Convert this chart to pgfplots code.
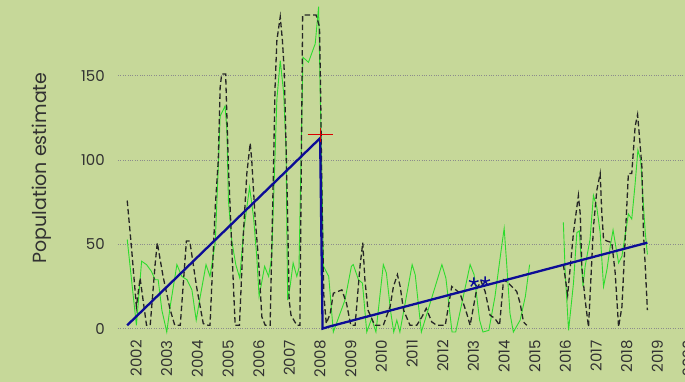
\documentclass[border=0pt]{standalone}
\usepackage{fontspec}
\setmainfont{Poppins}
\usepackage{pgfplots}
\pgfplotsset{compat=1.18}

\definecolor{bgkhaki}{RGB}{198,216,153}
\definecolor{seriesgreen}{RGB}{45,220,45}
\definecolor{trendblue}{RGB}{12,12,150}
\definecolor{ticktext}{RGB}{50,50,50}

\begin{document}
\begin{tikzpicture}
\path[use as bounding box, fill=bgkhaki] (0bp,0bp) rectangle (685bp,382bp);
\clip (0bp,0bp) rectangle (685bp,382bp);
\begin{axis}[
  at={(118bp,46.6bp)}, anchor=south west,
  scale only axis, width=588.6bp, height=343.9bp,
  xmin=2001.41, xmax=2020.6, ymin=-4, ymax=200,
  axis line style={draw=none},
  major tick length=0pt,
  tick style={draw=none},
  ymajorgrids,
  grid style={dotted, line width=0.7bp, color=black!45},
  xtick={2002,...,2020},
  xticklabels={2002,2003,2004,2005,2006,2007,2008,2009,2010,2011,2012,2013,2014,2015,2016,2017,2018,2019,2020},
  ytick={0,50,100,150},
  /pgf/number format/assume math mode=true,
  ticklabel style={font=\fontsize{15bp}{18bp}\selectfont, text=ticktext},
  xticklabel style={rotate=90, anchor=east, inner sep=0pt},
  xticklabel shift=4.6bp,
  yticklabel style={anchor=east, inner sep=0pt},
  yticklabel shift=13bp,
  ylabel={Population estimate},
  ylabel style={at={(axis description cs:-0.129,0.487)}, anchor=center,
    font=\fontsize{19bp}{22bp}\selectfont, text=ticktext},
  clip=true,
]

% monthly counts, first survey period
\addplot[seriesgreen, line width=0.9bp] coordinates {
(2001.71,53) (2002.01,2) (2002.18,40) (2002.34,38) (2002.50,34) (2002.62,29)
(2002.72,29) (2002.84,11) (2003.00,-2) (2003.11,13) (2003.33,38) (2003.49,31)
(2003.66,29) (2003.82,23) (2003.96,5) (2004.09,19) (2004.28,38) (2004.41,31)
(2004.58,51) (2004.68,96) (2004.74,126) (2004.90,132) (2004.96,118) (2005.01,76)
(2005.12,52) (2005.25,38) (2005.38,30) (2005.50,57) (2005.70,84) (2005.83,66)
(2005.94,41) (2006.01,19) (2006.19,37) (2006.32,31) (2006.42,42) (2006.59,136)
(2006.70,159) (2006.81,140) (2006.89,106) (2006.94,17) (2007.02,25) (2007.12,39)
(2007.24,31) (2007.31,36) (2007.44,161) (2007.62,158) (2007.84,169) (2007.95,191)
(2008.11,37) (2008.28,31) (2008.43,-2) (2008.81,17) (2009.02,37) (2009.08,38)
(2009.25,29) (2009.38,27) (2009.52,-2) (2009.68,6) (2009.82,-2) (2010.06,38)
(2010.16,33) (2010.30,10) (2010.40,-2) (2010.50,5) (2010.60,-2) (2011.00,38)
(2011.10,32) (2011.30,-2) (2011.97,38) (2012.10,30) (2012.30,-2) (2012.42,-2)
(2012.89,38) (2013.02,32) (2013.20,5) (2013.31,-2) (2013.50,-1) (2013.70,19)
(2013.92,49) (2014.00,59.5) (2014.08,39) (2014.19,9) (2014.30,-2) (2014.52,5)
(2014.69,19) (2014.83,38)
};
% monthly counts, second survey period
\addplot[seriesgreen, line width=0.9bp] coordinates {
(2015.93,63) (2015.99,33) (2016.10,-1) (2016.26,27) (2016.37,57) (2016.45,58)
(2016.57,25) (2016.64,37) (2016.80,53) (2016.91,79) (2017.02,72) (2017.13,57)
(2017.24,25) (2017.35,35) (2017.46,49) (2017.55,58.5) (2017.73,39) (2017.84,43)
(2018.05,68) (2018.16,65) (2018.27,86) (2018.36,106) (2018.45,100) (2018.53,76)
(2018.60,57) (2018.67,44)
};

% model fit, first survey period
\addplot[black!85, line width=1.3bp, dash pattern=on 5.5bp off 3bp] coordinates {
(2001.71,76) (2001.85,48) (2002.01,13) (2002.13,30) (2002.34,2) (2002.46,2)
(2002.62,38) (2002.69,51) (2002.88,31) (2003.10,12) (2003.26,2) (2003.44,2)
(2003.64,52) (2003.75,52) (2003.97,25) (2004.19,3) (2004.35,2) (2004.41,2)
(2004.58,72) (2004.68,100) (2004.74,143) (2004.79,151) (2004.92,151) (2004.96,126)
(2005.01,96) (2005.10,57) (2005.17,27) (2005.23,2) (2005.37,2) (2005.50,57)
(2005.61,92) (2005.72,110) (2005.77,100) (2005.88,66) (2005.99,41) (2006.10,7)
(2006.21,2) (2006.37,2) (2006.48,96) (2006.53,143) (2006.59,171) (2006.70,185)
(2006.77,171) (2006.83,153) (2006.88,116) (2006.93,76) (2006.99,17) (2007.05,8)
(2007.24,2) (2007.34,2) (2007.43,186) (2007.87,186) (2007.98,179) (2008.02,136)
(2008.06,76) (2008.12,20) (2008.20,3) (2008.33,9) (2008.43,21) (2008.71,23)
(2008.86,15) (2009.00,2) (2009.14,2) (2009.30,37) (2009.39,51) (2009.46,29)
(2009.56,11) (2009.78,2) (2010.06,2) (2010.28,13) (2010.39,25) (2010.52,32)
(2010.61,25) (2010.72,11) (2010.93,2) (2011.15,2) (2011.32,7) (2011.46,12)
(2011.64,4) (2011.80,2) (2012.08,2) (2012.29,25) (2012.56,21) (2012.78,9)
(2012.89,2) (2013.11,24) (2013.25,28) (2013.38,22) (2013.54,8) (2013.70,6)
(2013.85,2) (2013.98,29) (2014.14,27) (2014.41,22) (2014.52,15) (2014.63,4)
(2014.74,2)
};
% model fit, second survey period
\addplot[black!85, line width=1.3bp, dash pattern=on 5.5bp off 3bp] coordinates {
(2015.93,38) (2016.07,20) (2016.26,57) (2016.42,79) (2016.48,68) (2016.53,37)
(2016.64,17) (2016.75,1) (2016.91,60) (2017.02,82) (2017.13,92) (2017.18,70)
(2017.24,53) (2017.35,52) (2017.51,51) (2017.62,33) (2017.73,1) (2017.84,13)
(2017.94,51) (2018.05,92) (2018.16,92) (2018.27,120) (2018.35,127) (2018.41,114)
(2018.49,96) (2018.54,57) (2018.60,37) (2018.67,11)
};

% cumulative trend
\addplot[trendblue, line width=2.3bp] coordinates {
(2001.71,2) (2008.00,113) (2008.08,0) (2008.25,1) (2018.67,51)
};

% peak before the reset
\addplot[red!85!black, only marks, mark=+, mark size=7bp,
  mark options={xscale=1.8, line width=1.1bp}] coordinates {(2008.00,115)};

% flagged surveys
\addplot[trendblue, only marks, mark=star, mark size=5bp,
  mark options={line width=1.4bp}] coordinates {(2013.01,27.5) (2013.38,28)};

\end{axis}
\end{tikzpicture}
\end{document}
